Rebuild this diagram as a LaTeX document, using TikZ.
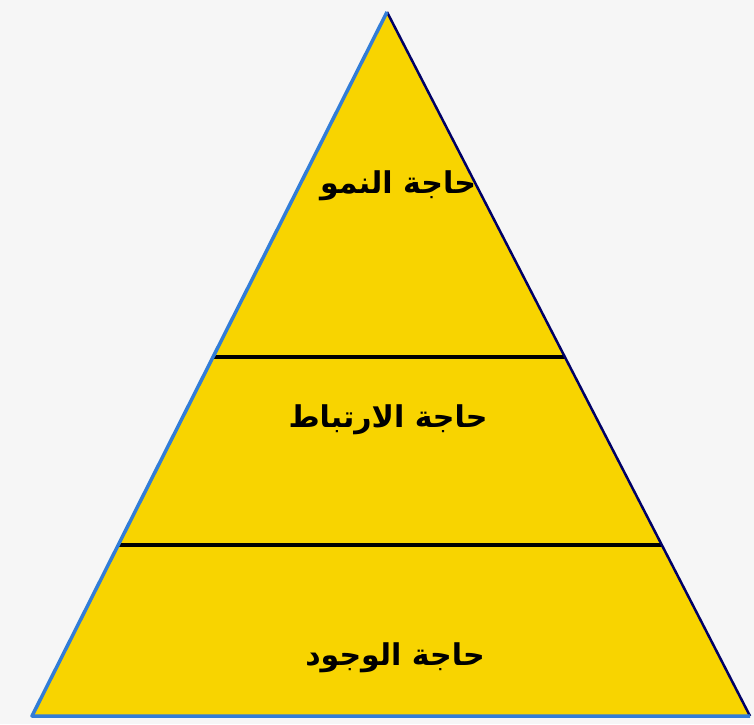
\documentclass[tikz,border=0pt]{standalone}
\usepackage{fontspec}
\usetikzlibrary{calc}
\TeXXeTstate=1
\newfontfamily\arabicfont[Script=Arabic]{DejaVu Sans}
\definecolor{pyryellow}{RGB}{248,212,0}
\definecolor{pyrblue}{RGB}{50,125,215}
\definecolor{bggray}{RGB}{246,246,246}
\tikzset{
  lbl/.style={font=\arabicfont\bfseries\fontsize{30}{34}\selectfont, text=black, inner sep=0pt},
  divider/.style={line width=3.5pt, black},
}
\begin{document}
\begin{tikzpicture}[x=1pt,y=-1pt]
\fill[bggray] (0,0) rectangle (754,724);
\useasboundingbox (0,0) rectangle (754,724);
\coordinate (apex) at (387,12);
\coordinate (bl) at (32,716);
\coordinate (br) at (750,716);
\fill[pyryellow] (apex) -- (bl) -- (br) -- cycle;
\coordinate (l1a) at ($(apex)!0.49!(bl)$);
\coordinate (l1b) at ($(apex)!0.49!(br)$);
\coordinate (l2a) at ($(apex)!0.757!(bl)$);
\coordinate (l2b) at ($(apex)!0.757!(br)$);
\draw[divider] (l1a) -- (l1b);
\draw[divider] (l2a) -- (l2b);
\draw[black!60!blue, line width=2.5pt] (br) -- (apex);
\draw[pyrblue, line width=3.5pt, line join=round] (apex) -- (bl) -- (br);
\node[lbl] (t1) at (398,186) {\beginR حاجة النمو\endR};
\node[lbl] (t2) at (388,420) {\beginR حاجة الارتباط\endR};
\node[lbl] (t3) at (395,658) {\beginR حاجة الوجود\endR};
\end{tikzpicture}
\end{document}
